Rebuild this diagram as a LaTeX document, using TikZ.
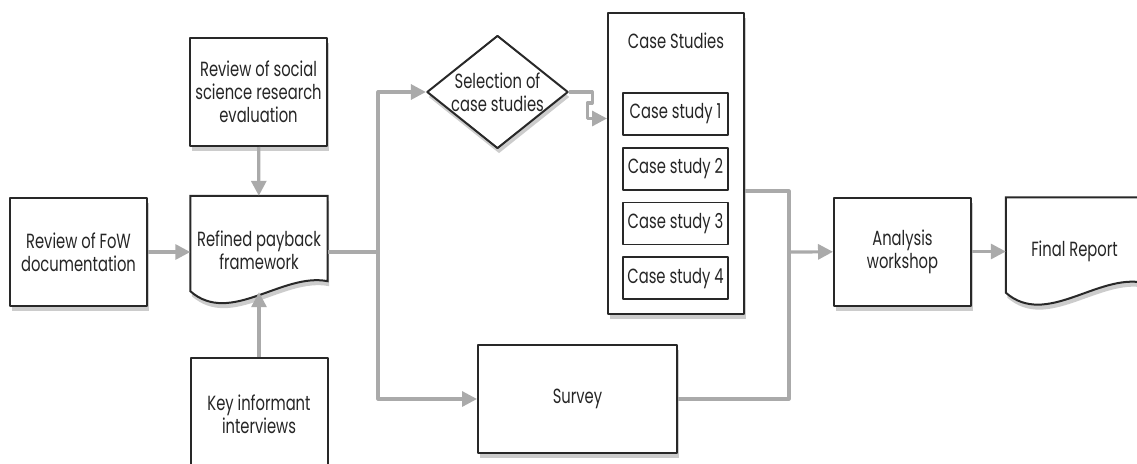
\documentclass[tikz,border=0pt]{standalone}
\usepackage{fontspec}
\setmainfont[FakeStretch=0.72]{Poppins}
\usetikzlibrary{positioning,shapes.geometric,shadows,arrows.meta}
\definecolor{flowgray}{RGB}{170,170,170}
\definecolor{boxgray}{RGB}{40,40,40}
\pgfdeclarelayer{background}
\pgfsetlayers{background,main}

\tikzset{
  boxshadow/.style={drop shadow={opacity=0.4, shadow xshift=1.5pt, shadow yshift=-5pt}},
  stepbox/.style={draw=boxgray, line width=2pt, fill=white, align=center,
    text=black!85, minimum width=137pt, minimum height=108pt, inner sep=2pt, boxshadow},
  docbox/.style={align=center, text=black!85, minimum width=137pt, minimum height=108pt, inner sep=2pt},
  csbox/.style={draw=boxgray, line width=1.7pt, fill=white, text=black!85,
    minimum width=105pt, minimum height=42pt, inner sep=2pt},
  decide/.style={diamond, draw=boxgray, line width=2pt, fill=white, align=center,
    text=black!85, aspect=1.25, inner sep=0pt, minimum width=135pt, minimum height=108pt, boxshadow},
  flow/.style={flowgray, line width=3.2pt},
  arrow/.style={flow, -{Triangle[length=15pt,width=15pt]}}
}

% document outline with wavy lower edge
\newcommand\docoutline[1]{%
  \begin{pgfonlayer}{background}
    \draw[draw=boxgray, line width=2pt, fill=white, boxshadow]
      (#1.north west) -- (#1.north east) -- ([yshift=23pt]#1.south east)
      .. controls ([xshift=-46pt,yshift=32pt]#1.south east) and ([xshift=40pt,yshift=-22pt]#1.south west)
      .. ([yshift=13pt]#1.south west) -- cycle;
  \end{pgfonlayer}}

\begin{document}
\begin{tikzpicture}[x=1pt, y=-1pt, font=\fontsize{20.5pt}{23pt}\selectfont, line join=round]
  \useasboundingbox (0,0) rectangle (1137,463);
  \clip (0,0) rectangle (1137,463);

  % inputs
  \node[stepbox] (fow) at (78.5,252) {Review of FoW\\documentation};
  \node[stepbox] (social) at (258.5,92) {Review of social\\science research\\evaluation};
  \node[docbox] (refined) at (259,250) {Refined payback\\framework};
  \docoutline{refined}
  \node[stepbox, minimum height=112pt] (key) at (259,414) {Key informant\\interviews};

  % selection and case studies
  \node[decide] (select) at (497.5,92) {Selection of\\case studies};
  \node[stepbox, minimum width=136pt, minimum height=301pt] (cases) at (676,163.5) {};
  \node[below=17pt of cases.north, text=black!85] (cstitle) {Case Studies};
  \node[csbox] (cs1) at (675.5,114) {Case study 1};
  \node[csbox, below=11pt of cs1] (cs2) {Case study 2};
  \node[csbox, below=11pt of cs2] (cs3) {Case study 3};
  \node[csbox, below=11pt of cs3] (cs4) {Case study 4};

  \node[stepbox, minimum width=199pt] (survey) at (577.5,399) {Survey};

  % outputs
  \node[stepbox] (analysis) at (902.5,251.5) {Analysis\\workshop};
  \node[docbox] (final) at (1074.5,251.5) {Final Report};
  \docoutline{final}

  % connectors
  \coordinate (split) at (378,252);
  \coordinate (merge) at (789,252);
  \draw[arrow] (fow) -- (fow -| refined.west);
  \draw[arrow] (social) -- (refined);
  \draw[arrow] (key) -- ([yshift=12pt]refined.south);
  \draw[flow] (split -| refined.east) -- (split);
  \draw[arrow] (split) |- (select.west);
  \draw[arrow] (split) |- (survey.west);
  \draw[arrow] (select.east) -- ++(23,0) -- ++(0,11) -- ++(-5,0) |- ([yshift=45pt]cases.west);
  \draw[flow] ([yshift=-27.5pt]cases.east) -| (merge);
  \draw[flow] (survey.east) -| (merge);
  \draw[arrow] (merge) -- (analysis);
  \draw[arrow] (analysis) -- (final);
\end{tikzpicture}
\end{document}
